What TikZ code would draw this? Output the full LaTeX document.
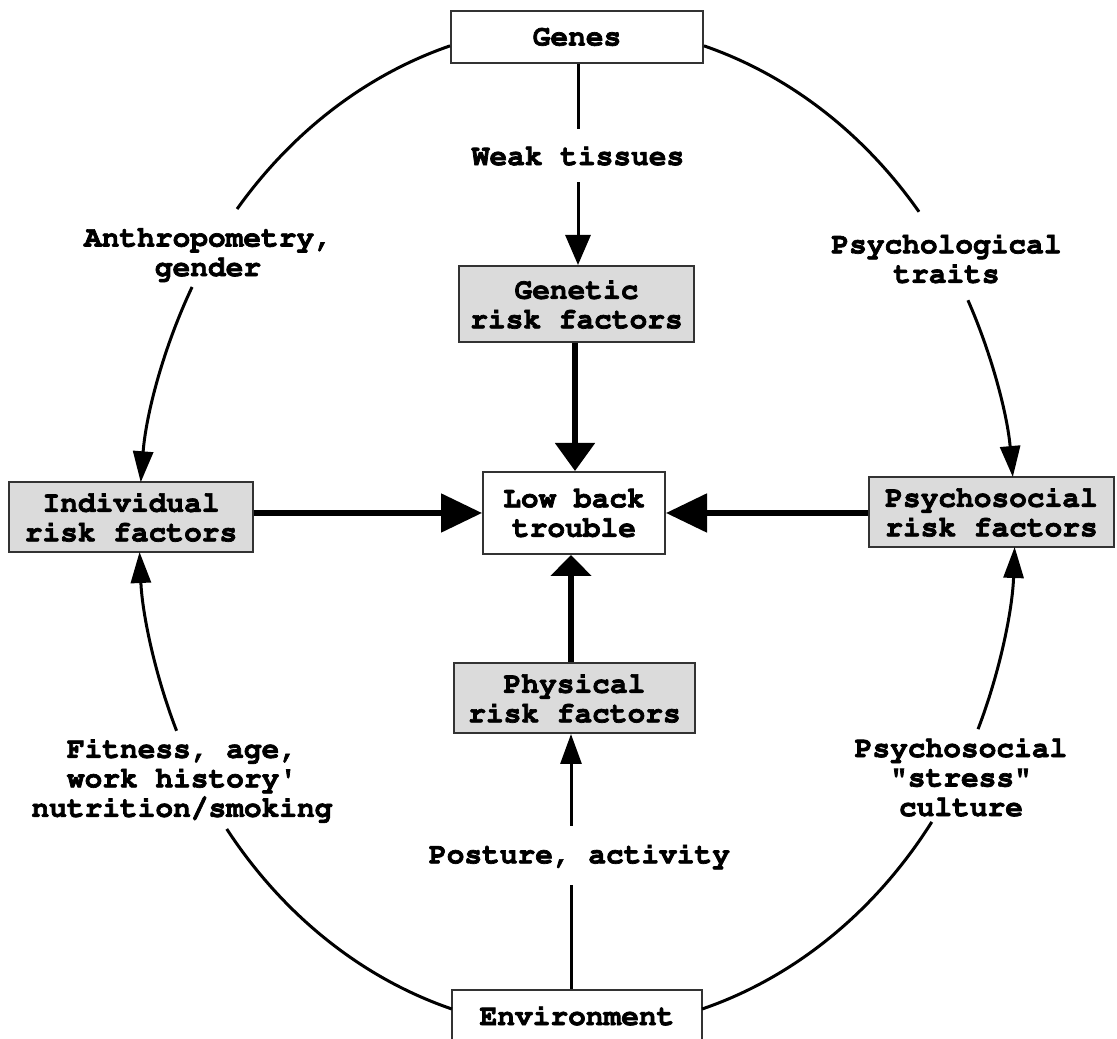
\documentclass[tikz,border=0pt]{standalone}
\usepackage[T1]{fontenc}
\usetikzlibrary{arrows.meta}
\newcommand\crfont{\fontencoding{T1}\fontfamily{pcr}\fontseries{b}\fontshape{n}\fontsize{29.5pt}{29.5pt}\selectfont}
\tikzset{
  heavytext/.style={execute at begin node={\special{pdf:literal direct 2 Tr 0.7 w}},
                    execute at end node={\special{pdf:literal direct 0 Tr}}},
  box/.style={draw=black!80, line width=2pt, inner sep=0pt, align=center, font=\crfont, heavytext},
  riskbox/.style={box, fill=black!14},
  lbl/.style={inner sep=0pt, align=center, font=\crfont, heavytext},
  thinline/.style={line width=3pt},
  thickline/.style={line width=5.2pt},
  ell/.style={x radius=438pt, y radius=503pt},
  arcarrow/.style={-{Triangle[length=31pt,width=20pt]}},
}
\begin{document}
\begin{tikzpicture}[x=1pt,y=1pt]
\fill[white] (0,0) rectangle (1117,1039);
\useasboundingbox (0,0) rectangle (1117,1039);

% boxes
\node[box, minimum width=252pt, minimum height=52pt] (genes) at (577,1002) {Genes};
\node[riskbox, minimum width=235pt, minimum height=76pt] (genetic) at (576.5,735) {Genetic\\risk factors};
\node[box, minimum width=182pt, minimum height=82pt] (lbt) at (574,526) {Low back\\trouble};
\node[riskbox, minimum width=241pt, minimum height=70pt] (physical) at (574.5,341) {Physical\\risk factors};
\node[box, minimum width=250pt, minimum height=51pt] (env) at (577,23.5) {Environment};
\node[riskbox, minimum width=244pt, minimum height=70pt] (indiv) at (131,522) {Individual\\risk factors};
\node[riskbox, minimum width=245pt, minimum height=70pt] (psysoc) at (991.5,527) {Psychosocial\\risk factors};

% labels
\node[lbl, minimum height=53pt] (weak) at (578,883.5) {Weak tissues};
\node[lbl, minimum height=59pt] (posture) at (579.5,183.5) {Posture, activity};
\node[lbl] (anthro) at (208,785) {Anthropometry,\\gender};
\node[lbl] (psytraits) at (946.5,780.5) {Psychological\\traits};
\node[lbl] (fitness) at (182,259.5) {Fitness, age,\\work history\textquotesingle\\nutrition/smoking};
\node[lbl] (stress) at (961,262) {Psychosocial\\"stress"\\culture};

% straight connectors
\draw[thinline] (weak.north |- genes.south) -- (weak.north);
\draw[thinline, -{Triangle[length=30pt,width=25pt]}] (weak.south) -- (weak.south |- genetic.north);
\draw[thickline, -{Triangle[length=28pt,width=39pt]}] ([xshift=-1.5pt]genetic.south) -- ([xshift=-1.5pt]genetic.south |- lbt.north);
\draw[thickline, -{Triangle[length=41pt,width=38pt]}] (indiv.east |- lbt.west) -- (lbt.west);
\draw[thickline, -{Triangle[length=41pt,width=38pt]}] (psysoc.west |- lbt.east) -- (lbt.east);
\draw[thickline, -{Triangle[length=21pt,width=40pt]}] ([xshift=-3.5pt]physical.north) -- ([xshift=-3.5pt]physical.north |- lbt.south);
\draw[thinline] ([xshift=-6pt]env.north) -- ([xshift=-6pt]env.north |- posture.south);
\draw[thinline, -{Triangle[length=30pt,width=21pt]}] ([xshift=-6pt]env.north |- posture.north) -- ([xshift=-6pt]env.north |- physical.south);

% elliptical connectors
\coordinate (tlb) at ({577+438*cos(151.5)},{512+503*sin(151.5)});
\coordinate (bla) at ({577+438*cos(216.9)},{512+503*sin(216.9)});
\coordinate (blb) at ({577+438*cos(203.9)},{512+503*sin(203.9)});
\coordinate (trb) at ({577+438*cos(26.8)},{512+503*sin(26.8)});
\coordinate (bra) at ({577+438*cos(-35.9)},{512+503*sin(-35.9)});
\coordinate (brb) at ({577+438*cos(-23.7)},{512+503*sin(-23.7)});

\draw[thinline] (genes.184) arc[start angle=106.72, end angle=140.7, ell];
\draw[thinline, arcarrow] (tlb) arc[start angle=151.5, end angle=174.9, ell];
\draw[thinline, arcarrow] (blb) arc[start angle=203.9, end angle=182.85, ell];
\draw[thinline] (bla) arc[start angle=216.9, end angle=253.4, ell];
\draw[thinline] (genes.356) arc[start angle=73.3, end angle=38.9, ell];
\draw[thinline, arcarrow] (trb) arc[start angle=26.8, end angle=5.7, ell];
\draw[thinline, arcarrow] (brb) arc[start angle=-23.7, end angle=-2.28, ell];
\draw[thinline] (bra) arc[start angle=-35.9, end angle=-73.4, ell];
\end{tikzpicture}
\end{document}
